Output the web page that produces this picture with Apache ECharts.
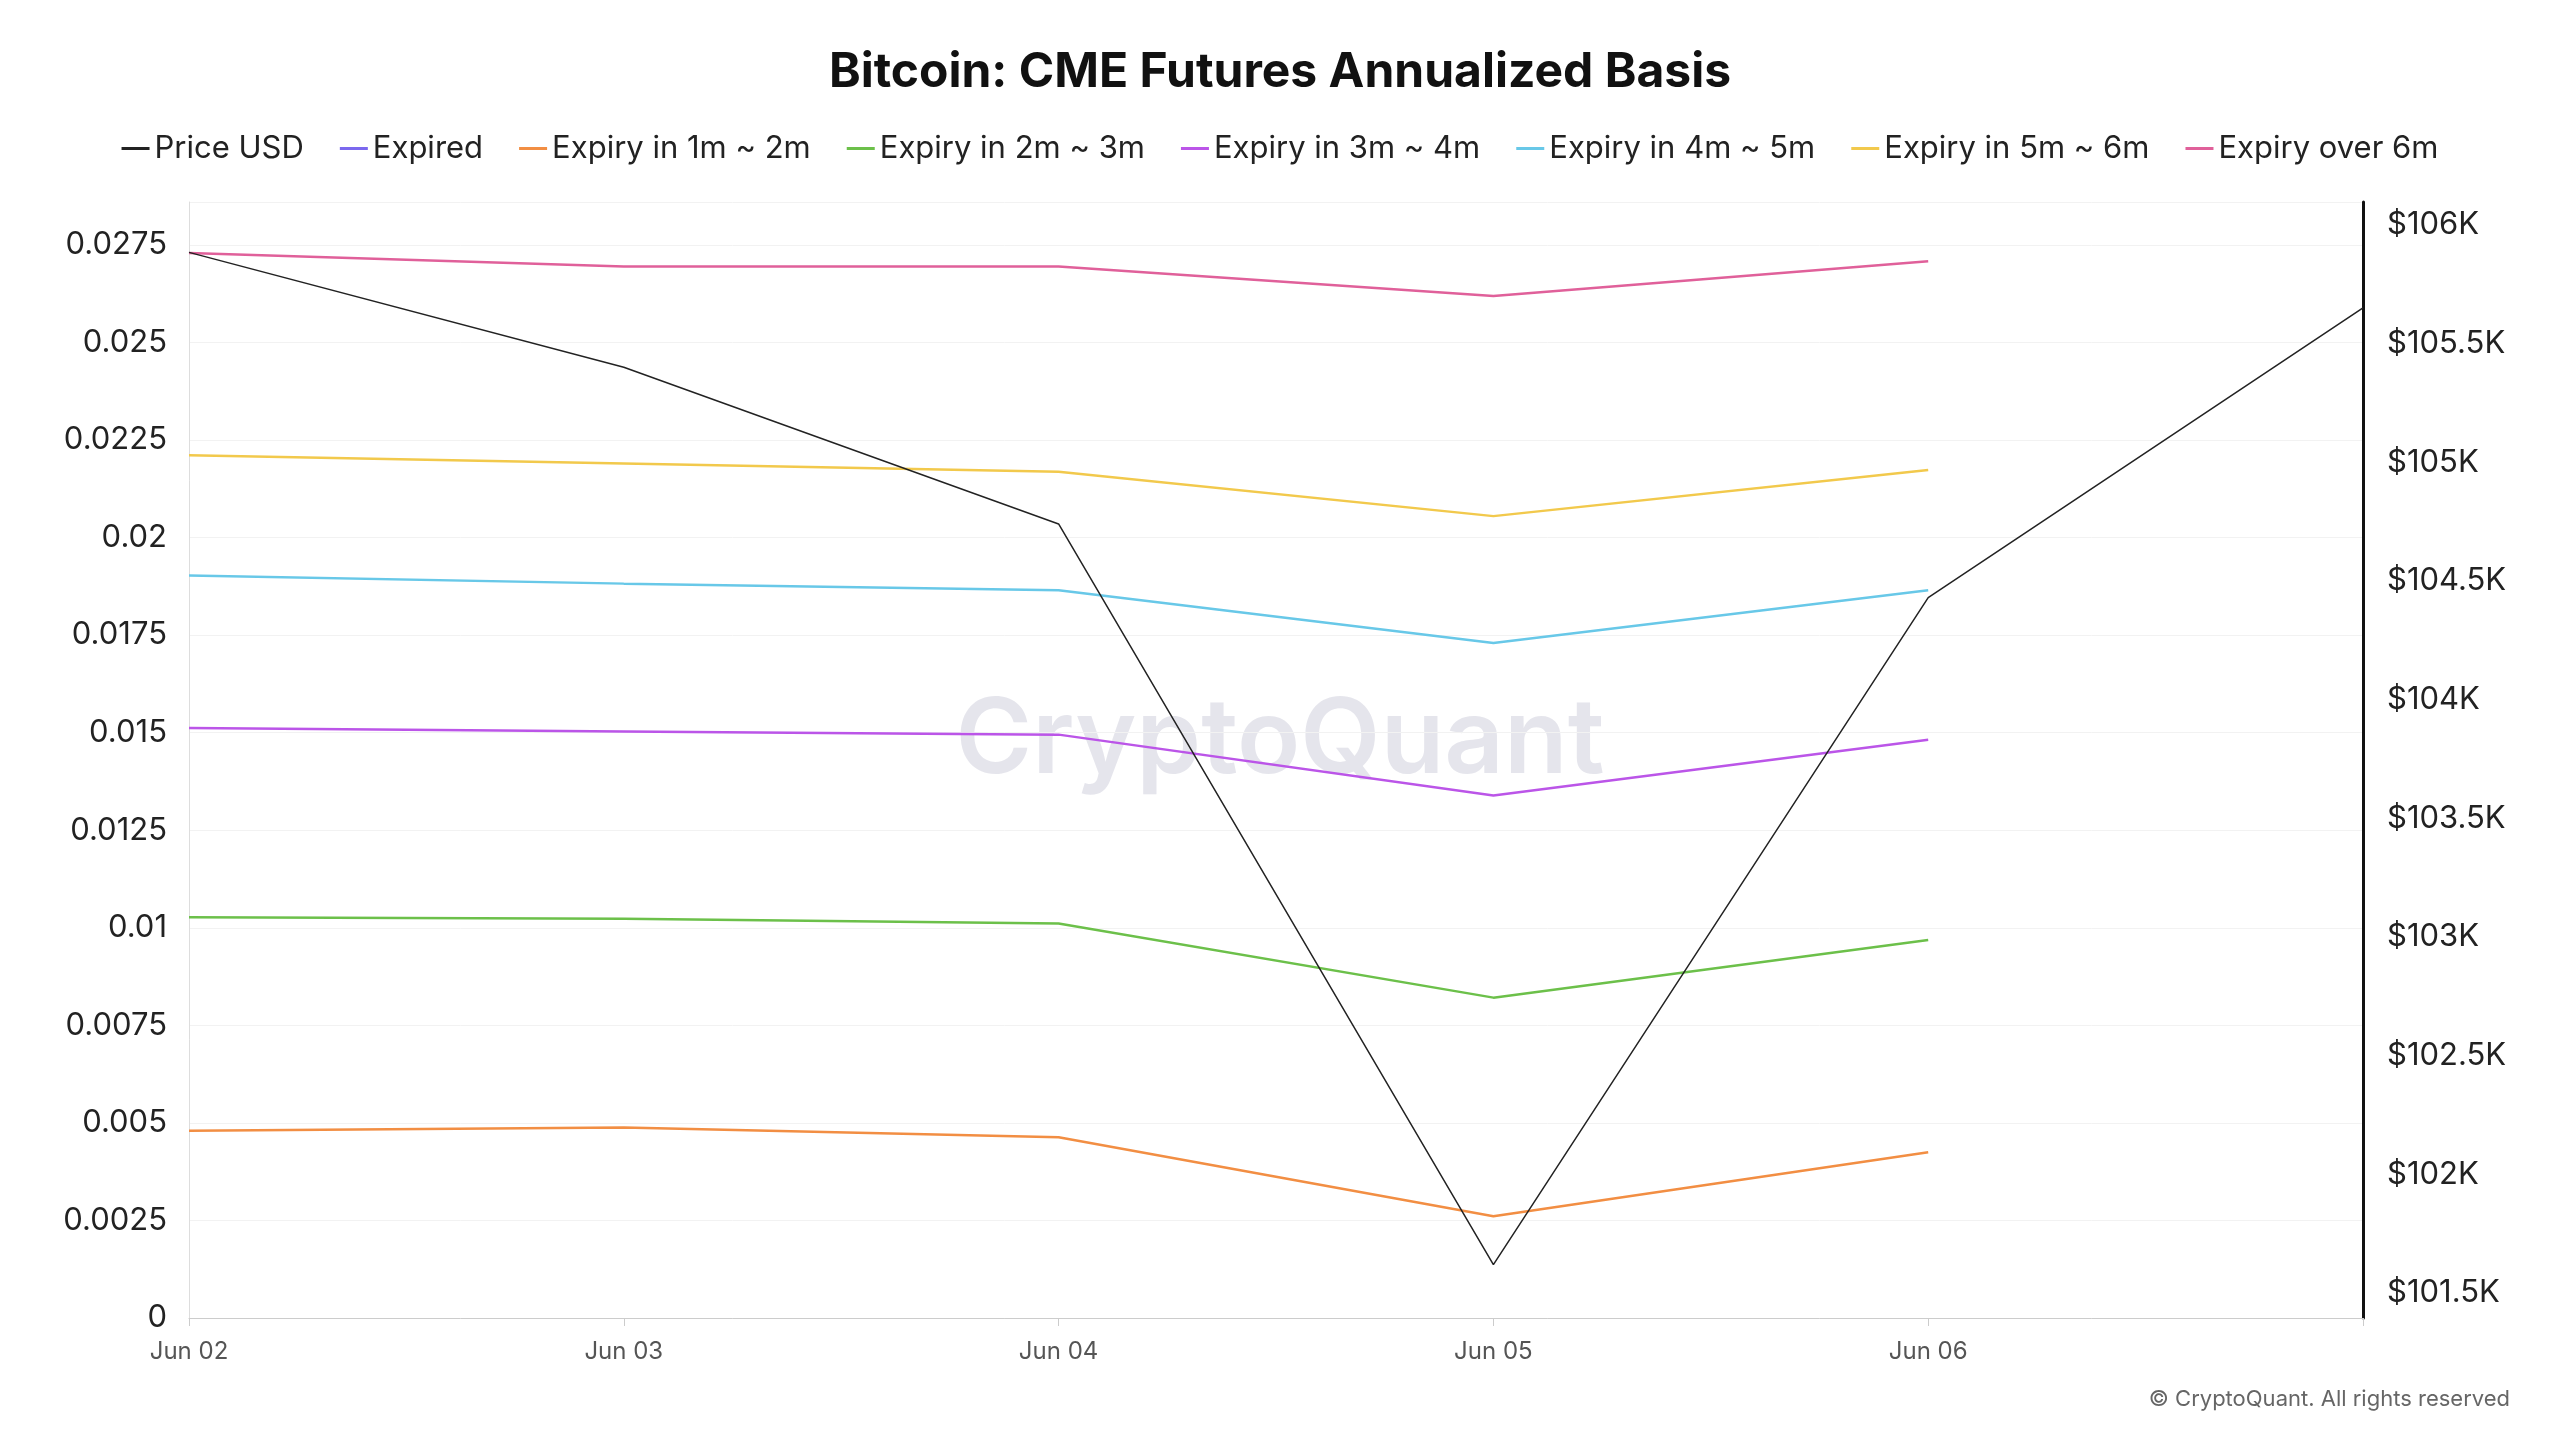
<!DOCTYPE html><html><head><meta charset="utf-8"><script src="https://cdn.jsdelivr.net/npm/echarts@6/dist/echarts.min.js"></script>
<style>html,body{margin:0;background:#fff}#c{width:2560px;height:1440px}</style></head><body><div id="c"></div><script>
const categories=['Jun 02','Jun 03','Jun 04','Jun 05','Jun 06',''];
const priceUSD=[105884,105400,104740,101620,104430,105650];
const expired=[];
const exp1to2=[0.0048,0.00488,0.00463,0.00261,0.00425];
const exp2to3=[0.01027,0.01023,0.01011,0.00821,0.00969];
const exp3to4=[0.01512,0.01503,0.01495,0.01339,0.01482];
const exp4to5=[0.01903,0.01882,0.01865,0.0173,0.01865];
const exp5to6=[0.02211,0.0219,0.02169,0.02055,0.02173];
const expOver6=[0.02729,0.02695,0.02695,0.02619,0.02708];
const s=2560/1560;
const F='Inter, "Noto Sans", sans-serif';
const ch=echarts.init(document.getElementById('c'));
const L=189,R=2560-2363;
const mk=(name,data,color)=>({name,type:'line',data,xAxisIndex:0,yAxisIndex:0,symbol:'none',lineStyle:{width:2.5,color},itemStyle:{color}});
ch.setOption({
 animation:false,
 title:{text:'Bitcoin: CME Futures Annualized Basis',left:'center',top:44,textStyle:{fontFamily:F,fontSize:48,fontWeight:'bold',color:'#111'}},
 legend:{top:128,left:'center',itemWidth:28,itemHeight:3,itemGap:36,icon:'rect',textStyle:{fontFamily:F,fontSize:31,color:'#222'}},
 graphic:[{type:'text',left:'center',top:690,style:{text:'CryptoQuant',font:'600 104px '+F,fill:'rgba(180,180,200,0.35)'}},
  {type:'text',right:50,top:1388,style:{text:'© CryptoQuant. All rights reserved',font:'22px '+F,fill:'#666'}}],
 grid:[{left:L,right:R,top:202,bottom:1440-1318},{left:L,right:R,top:137*s,bottom:1440-788*s}],
 xAxis:[{type:'category',gridIndex:0,data:categories,boundaryGap:false,axisLine:{lineStyle:{color:'#ccc'}},axisTick:{show:true,alignWithLabel:true,lineStyle:{color:'#ccc'},length:8},
   axisLabel:{fontFamily:F,fontSize:24,color:'#555',margin:22,interval:0},splitLine:{show:false}},
  {type:'category',gridIndex:1,data:categories,boundaryGap:false,show:false}],
 yAxis:[{type:'value',gridIndex:0,min:0,max:0.0286,interval:0.0025,axisLabel:{showMaxLabel:false,fontFamily:F,fontSize:31,color:'#222',margin:22},
   axisLine:{show:true,lineStyle:{color:'#ddd'}},splitLine:{lineStyle:{color:'#f2f2f2'}}},
  {type:'value',gridIndex:0,position:'right',min:0,max:1,axisLine:{show:true,lineStyle:{color:'#111',width:3}},axisLabel:{show:false},splitLine:{show:false},axisTick:{show:false}},
  {type:'value',gridIndex:1,position:'right',min:101500,max:106000,interval:500,axisLine:{show:false},axisTick:{show:false},splitLine:{show:false},
   axisLabel:{fontFamily:F,fontSize:31,color:'#222',margin:24,formatter:v=>'$'+(v/1000)+'K'}}],
 series:[
  {name:'Price USD',type:'line',data:priceUSD,xAxisIndex:1,yAxisIndex:2,symbol:'none',lineStyle:{width:1.5,color:'#222'},itemStyle:{color:'#222'},z:5},
  mk('Expired',expired,'#7b68ee'),
  mk('Expiry in 1m ~ 2m',exp1to2,'#f28e43'),
  mk('Expiry in 2m ~ 3m',exp2to3,'#6cc04a'),
  mk('Expiry in 3m ~ 4m',exp3to4,'#bb55e8'),
  mk('Expiry in 4m ~ 5m',exp4to5,'#68c8e8'),
  mk('Expiry in 5m ~ 6m',exp5to6,'#f2c94c'),
  mk('Expiry over 6m',expOver6,'#e0609a')]
});
</script></body></html>
